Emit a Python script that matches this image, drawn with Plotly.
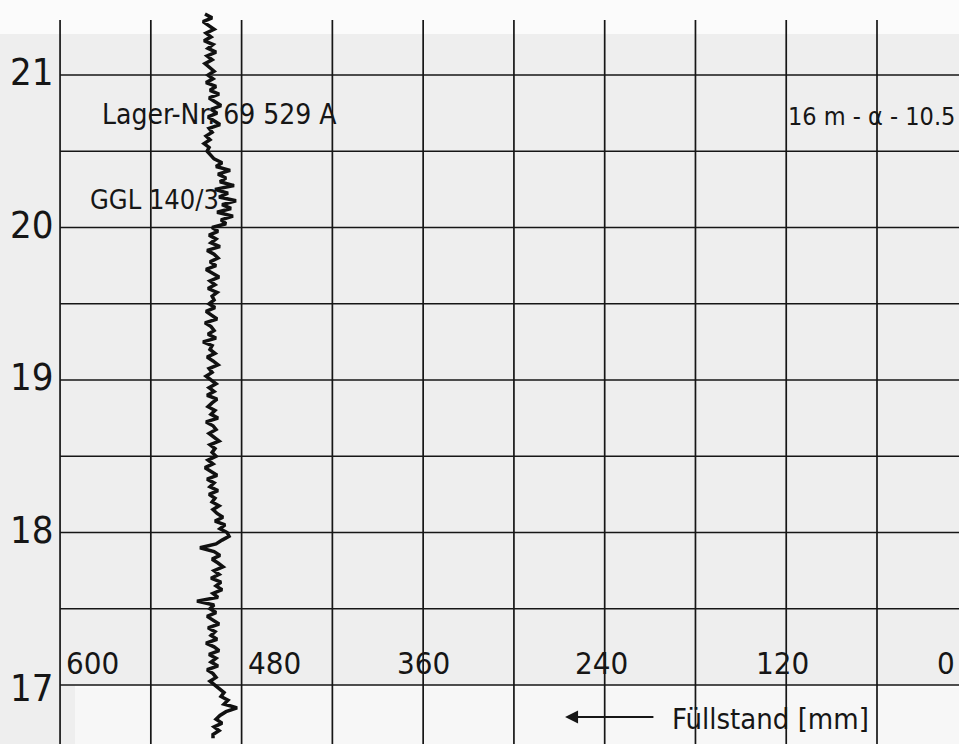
import plotly.graph_objects as go

# ---------------- data ----------------
fill_mm = [
    504.2, 499.5, 505.5, 501.5, 498.2, 503.5, 500.2, 504.8, 498.9, 502.2, 496.9, 502.8, 499.5, 504.2, 500.9, 498.2, 502.2,
    498.9, 503.5, 496.9, 500.9, 494.9, 501.5, 497.6, 493.6, 500.2, 496.2, 502.2, 498.2, 494.3, 501.5,
    499.5, 503.5, 500.9, 504.8, 501.5, 502.8, 500.2,
    498.2, 492.9, 496.9, 487.6, 495.6, 490.3, 494.3, 485.0, 497.6, 489.0, 494.9, 483.7, 492.9, 487.0, 496.2, 485.7, 493.6, 490.3,
    499.5, 495.6, 501.5, 496.9, 500.2, 494.3, 502.8, 498.2, 495.6, 500.9, 496.9, 503.5, 498.9, 494.9, 500.9, 497.6, 502.2, 496.2, 499.5, 498.2,
    501.5, 497.6, 503.5, 499.5, 496.2, 504.2, 500.2, 498.2, 502.2, 496.9, 505.5, 499.5, 500.9, 497.6, 502.8, 498.9, 495.6, 501.5, 499.5, 503.5,
    500.2, 496.9, 501.5, 498.2, 502.8, 496.2, 499.5, 502.2, 497.6, 500.2, 495.6, 503.5, 498.9, 496.9, 501.5, 498.2, 494.9, 500.9, 497.6, 499.5,
    496.9, 502.2, 498.9, 504.2, 500.2, 496.2, 502.8, 498.2, 500.9, 495.6, 501.5, 497.6, 499.5, 494.9, 498.9,
    496.2, 492.3, 497.6, 490.9, 494.3, 489.6, 488.3, 492.9, 496.9, 507.5,
    498.2, 494.3, 499.5, 495.6, 492.3, 498.2, 494.9, 500.2, 493.6, 496.9, 492.9, 498.9, 495.6, 509.5, 498.2,
    500.9, 496.9, 502.8, 498.9, 494.9, 502.2, 497.6, 500.2, 496.2, 503.5, 498.2, 494.9, 501.5, 496.9, 500.2, 495.6, 502.8, 498.9, 496.9, 500.9, 497.6,
    494.9, 491.6, 493.6, 489.0, 491.6, 483.0, 490.3,
    494.3, 496.9, 492.9, 498.2, 494.9, 498.9, 498.9,
]
# depth sampling grid of the recorded curve (top 21.40 m, step 0.025 m)
depth_m = [round(21.40 - 0.025 * i, 3) for i in range(len(fill_mm))]

x_ticks = [600, 480, 360, 240, 120, 0]
x_grid = [600, 540, 480, 420, 360, 300, 240, 180, 120, 60]
y_ticks = [21, 20, 19, 18, 17]
y_grid = [21, 20.5, 20, 19.5, 19, 18.5, 18, 17.5, 17]

label_lager = "Lager-Nr. 69 529 A"
label_ggl = "GGL 140/3"
label_code = "16 m - α - 10.5"
label_axis = "Füllstand [mm]"

# ---------------- figure ----------------
W, H = 959, 744
XR = [639.7, 5.8]
YR = [16.613, 21.492]

FONT = "DejaVu Sans Condensed, DejaVu Sans, sans-serif"
INK = "#161616"

fig = go.Figure()
fig.add_trace(go.Scatter(
    x=fill_mm, y=depth_m, mode="lines",
    line=dict(color="#111111", width=3.5),
    hoverinfo="skip", showlegend=False,
))

shapes = []
# background paper tones (scan)
shapes.append(dict(type="rect", xref="paper", yref="paper", x0=0, x1=1,
                   y0=1 - 685 / H, y1=1 - 34 / H, fillcolor="#eeeeee", line_width=0, layer="below"))
shapes.append(dict(type="rect", xref="paper", yref="paper", x0=0, x1=75 / W,
                   y0=0, y1=1 - 34 / H, fillcolor="#eeeeee", line_width=0, layer="below"))
shapes.append(dict(type="rect", xref="paper", yref="paper", x0=75 / W, x1=1,
                   y0=0, y1=1 - 688 / H, fillcolor="#f7f7f7", line_width=0, layer="below"))
# grid
for gx in x_grid:
    shapes.append(dict(type="line", xref="x", yref="paper", x0=gx, x1=gx,
                       y0=0, y1=1 - 20 / H, line=dict(color=INK, width=1.7), layer="below"))
for gy in y_grid:
    shapes.append(dict(type="line", xref="x", yref="y", x0=600, x1=XR[1],
                       y0=gy, y1=gy, line=dict(color=INK, width=1.6), layer="below"))

annotations = []
# depth labels on the left
for yt in y_ticks:
    annotations.append(dict(x=32 / W, xref="paper", y=yt, yref="y", text=str(yt),
                            showarrow=False, xanchor="center", yanchor="middle",
                            yshift=3 if yt != 17 else -3,
                            font=dict(family=FONT, size=38, color=INK)))
# level labels inside the grid (0 lies just beyond the right edge, so placed on paper)
x_label_pos = {600: ("left", 4), 480: ("left", 4), 360: ("center", 0),
               240: ("center", -3), 120: ("center", -4)}
for xt in x_ticks:
    if xt in x_label_pos:
        anc, sh = x_label_pos[xt]
        annotations.append(dict(x=xt, xref="x", y=17.144, yref="y", text=str(xt),
                                showarrow=False, xanchor=anc, yanchor="middle", xshift=sh,
                                font=dict(family=FONT, size=31, color=INK)))
    else:
        annotations.append(dict(x=1, xref="paper", y=17.144, yref="y", text=str(xt),
                                showarrow=False, xanchor="right", yanchor="middle", xshift=-2,
                                font=dict(family=FONT, size=31, color=INK)))
annotations.append(dict(x=573.6, xref="x", y=20.744, yref="y", text=label_lager, showarrow=False,
                        xanchor="left", yanchor="middle", font=dict(family=FONT, size=28, color=INK)))
annotations.append(dict(x=581.5, xref="x", y=20.187, yref="y", text=label_ggl, showarrow=False,
                        xanchor="left", yanchor="middle", font=dict(family=FONT, size=27, color=INK)))
annotations.append(dict(x=7.2, xref="x", y=20.731, yref="y", text=label_code, showarrow=False,
                        xanchor="right", yanchor="middle", font=dict(family=FONT, size=25, color=INK)))
annotations.append(dict(x=196.8, xref="x", y=16.777, yref="y", text=label_axis, showarrow=False,
                        xanchor="left", yanchor="middle", font=dict(family=FONT, size=29, color=INK)))
# arrow pointing to larger fill levels
annotations.append(dict(x=266.2, y=16.790, xref="x", yref="y", ax=206.8, ay=16.790,
                        axref="x", ayref="y", text="", showarrow=True, arrowhead=2,
                        arrowsize=1.3, arrowwidth=2, arrowcolor=INK))

fig.update_layout(
    width=W, height=H,
    margin=dict(l=0, r=0, t=0, b=0),
    paper_bgcolor="#fbfbfb", plot_bgcolor="rgba(0,0,0,0)",
    xaxis=dict(range=XR, visible=False, fixedrange=True),
    yaxis=dict(range=YR, visible=False, fixedrange=True),
    shapes=shapes, annotations=annotations, showlegend=False,
)

fig.write_html(
    "out.html",
    config={"displayModeBar": False},
    post_script="document.body.style.margin='0';document.body.style.overflow='hidden';",
)
